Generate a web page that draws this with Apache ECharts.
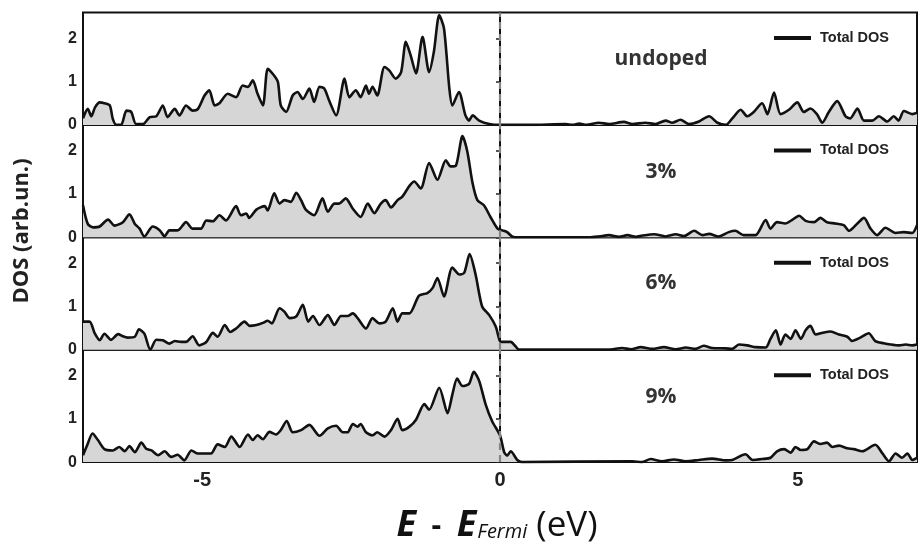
<!DOCTYPE html>
<html>
<head>
<meta charset="utf-8">
<script src="https://cdn.jsdelivr.net/npm/echarts@6/dist/echarts.min.js"></script>
<style>
  html, body { margin: 0; padding: 0; background: #fff; }
  #chart { width: 921px; height: 551px; }
</style>
</head>
<body>
<div id="chart"></div>
<script>
// Total density of states, [E - E_Fermi (eV), DOS (arb. un.)]
const dosUndoped = [
  [-7.0,0.15],[-6.92,0.37],[-6.86,0.2],[-6.8,0.4],[-6.72,0.52],[-6.64,0.5],[-6.55,0.45],[-6.5,0.14],[-6.44,0],[-6.36,0],
  [-6.27,0.33],[-6.19,0.3],[-6.11,0.02],[-5.99,0.02],[-5.88,0.18],[-5.77,0.2],[-5.66,0.45],[-5.58,0.18],[-5.46,0.37],[-5.38,0.22],
  [-5.27,0.45],[-5.16,0.33],[-5.07,0.37],[-4.96,0.68],[-4.88,0.8],[-4.79,0.45],[-4.71,0.5],[-4.57,0.72],[-4.43,0.64],[-4.32,0.91],
  [-4.23,0.88],[-4.15,1.03],[-4.07,0.72],[-3.98,0.45],[-3.9,1.3],[-3.82,1.19],[-3.73,1.0],[-3.68,0.45],[-3.59,0.3],[-3.48,0.68],
  [-3.4,0.76],[-3.31,0.6],[-3.2,0.84],[-3.12,0.53],[-3.03,0.88],[-2.95,0.84],[-2.87,0.57],[-2.75,0.22],[-2.61,1.07],[-2.53,0.64],
  [-2.42,0.8],[-2.34,0.64],[-2.25,0.91],[-2.2,0.72],[-2.14,0.88],[-2.06,0.68],[-1.94,1.34],[-1.86,1.26],[-1.75,1.07],[-1.66,1.22],
  [-1.58,1.92],[-1.5,1.61],[-1.41,1.19],[-1.3,2.04],[-1.19,1.22],[-1.11,1.69],[-1.02,2.54],[-0.94,2.23],[-0.85,0.84],[-0.8,0.45],
  [-0.69,0.76],[-0.58,0.22],[-0.52,0.1],[-0.46,0.22],[-0.35,0.1],[-0.18,0.02],[0,0],
  [0.5,0],[1.1,0.02],[1.22,0],[1.33,0.03],[1.45,0],[1.66,0.05],[1.83,0.02],[2.08,0.07],[2.22,0.02],[2.44,0.05],
  [2.61,0.02],[2.78,0.1],[2.89,0.05],[3.03,0.12],[3.17,0.02],[3.34,0.08],[3.51,0.2],[3.65,0.05],[3.79,0],[3.9,0.15],
  [4.04,0.35],[4.15,0.2],[4.26,0.3],[4.4,0.5],[4.49,0.25],[4.6,0.75],[4.71,0.25],[4.85,0.35],[4.99,0.52],[5.1,0.3],
  [5.21,0.38],[5.32,0.25],[5.41,0.05],[5.52,0.3],[5.66,0.55],[5.8,0.2],[5.88,0.15],[6.0,0.38],[6.11,0.1],[6.25,0.1],
  [6.36,0.2],[6.5,0.08],[6.61,0.2],[6.69,0.1],[6.78,0.32],[6.92,0.25],[7.0,0.28]
];

const dos3 = [
  [-7.0,0.74],[-6.92,0.31],[-6.83,0.23],[-6.72,0.25],[-6.58,0.41],[-6.47,0.27],[-6.33,0.35],[-6.22,0.53],[-6.13,0.31],[-6.05,0.2],
  [-5.97,0.02],[-5.83,0.25],[-5.71,0.16],[-5.63,0.02],[-5.55,0.16],[-5.41,0.16],[-5.27,0.35],[-5.16,0.2],[-5.02,0.2],[-4.93,0.39],
  [-4.82,0.37],[-4.71,0.51],[-4.6,0.39],[-4.43,0.72],[-4.35,0.51],[-4.26,0.55],[-4.21,0.45],[-4.09,0.64],[-3.95,0.72],[-3.9,0.62],
  [-3.79,1.02],[-3.7,0.78],[-3.62,0.86],[-3.51,0.82],[-3.42,1.03],[-3.34,0.86],[-3.26,0.64],[-3.12,0.51],[-2.98,0.9],[-2.89,0.59],
  [-2.78,0.78],[-2.7,0.78],[-2.59,0.9],[-2.47,0.66],[-2.34,0.47],[-2.22,0.78],[-2.11,0.56],[-2.0,0.78],[-1.92,0.86],[-1.83,0.69],
  [-1.72,0.86],[-1.64,0.94],[-1.52,1.19],[-1.44,1.29],[-1.33,1.13],[-1.19,1.72],[-1.05,1.33],[-0.91,1.78],[-0.83,1.64],[-0.74,1.66],
  [-0.63,2.34],[-0.55,1.99],[-0.46,1.25],[-0.38,0.86],[-0.27,0.74],[-0.16,0.47],[-0.04,0.2],[0.04,0.16],[0.12,0.12],[0.2,0.02],
  [0.26,0],[1.5,0],[1.66,0.02],[1.83,0.05],[2.0,0.01],[2.14,0.05],[2.28,0.01],[2.39,0.04],[2.59,0.07],[2.78,0.02],
  [2.95,0.07],[3.09,0.03],[3.26,0.15],[3.4,0.05],[3.51,0.08],[3.67,0.02],[3.84,0.12],[3.95,0.15],[4.09,0.05],[4.29,0.05],
  [4.46,0.4],[4.54,0.2],[4.65,0.35],[4.79,0.32],[4.9,0.4],[5.02,0.5],[5.13,0.38],[5.27,0.35],[5.38,0.45],[5.49,0.35],
  [5.63,0.32],[5.77,0.28],[5.86,0.15],[6.0,0.32],[6.11,0.45],[6.22,0.2],[6.33,0.05],[6.47,0.22],[6.64,0.1],[6.78,0.12],
  [6.92,0.1],[7.0,0.28]
];

const dos6 = [
  [-7.0,0.65],[-6.89,0.65],[-6.8,0.37],[-6.72,0.22],[-6.64,0.37],[-6.53,0.23],[-6.41,0.36],[-6.33,0.31],[-6.25,0.28],[-6.13,0.3],
  [-6.06,0.47],[-5.97,0.37],[-5.87,0],[-5.77,0.23],[-5.66,0.22],[-5.55,0.14],[-5.46,0.2],[-5.35,0.18],[-5.27,0.18],[-5.16,0.31],
  [-5.05,0.1],[-4.93,0.18],[-4.82,0.39],[-4.74,0.3],[-4.62,0.57],[-4.53,0.41],[-4.43,0.49],[-4.29,0.65],[-4.2,0.55],[-4.09,0.57],
  [-3.98,0.62],[-3.9,0.67],[-3.83,0.61],[-3.7,0.96],[-3.62,0.88],[-3.53,0.73],[-3.42,0.77],[-3.31,1.04],[-3.22,0.65],[-3.14,0.78],
  [-3.03,0.57],[-2.89,0.8],[-2.78,0.57],[-2.67,0.78],[-2.56,0.78],[-2.47,0.84],[-2.39,0.73],[-2.25,0.49],[-2.14,0.73],[-2.03,0.61],
  [-1.92,0.65],[-1.8,0.96],[-1.72,0.65],[-1.64,0.84],[-1.52,0.84],[-1.36,1.25],[-1.22,1.31],[-1.13,1.43],[-1.05,1.66],[-0.94,1.23],
  [-0.8,1.9],[-0.68,1.74],[-0.6,1.78],[-0.51,2.21],[-0.41,1.74],[-0.3,1.0],[-0.18,0.8],[-0.07,0.53],[0.0,0.2],[0.07,0.18],
  [0.18,0.18],[0.26,0.08],[0.32,0],[1.83,0],[2.05,0.04],[2.2,0.01],[2.36,0.06],[2.56,0.02],[2.75,0.06],[2.95,0.01],
  [3.12,0.05],[3.28,0.02],[3.42,0.09],[3.56,0.04],[3.79,0.03],[3.9,0.02],[4.01,0.12],[4.15,0.1],[4.29,0.06],[4.46,0.05],
  [4.54,0.25],[4.63,0.45],[4.71,0.12],[4.79,0.35],[4.88,0.25],[4.96,0.45],[5.05,0.25],[5.13,0.45],[5.21,0.55],[5.3,0.35],
  [5.44,0.4],[5.55,0.42],[5.69,0.35],[5.83,0.3],[5.91,0.2],[6.05,0.28],[6.19,0.38],[6.3,0.2],[6.44,0.15],[6.56,0.12],
  [6.7,0.1],[6.81,0.12],[6.92,0.1],[7.0,0.12]
];

const dos9 = [
  [-7.0,0.16],[-6.93,0.39],[-6.84,0.66],[-6.75,0.51],[-6.64,0.3],[-6.5,0.27],[-6.39,0.35],[-6.3,0.25],[-6.22,0.37],[-6.13,0.23],
  [-6.02,0.45],[-5.94,0.31],[-5.85,0.27],[-5.74,0.16],[-5.63,0.25],[-5.52,0.12],[-5.41,0.17],[-5.3,0.04],[-5.18,0.27],[-5.07,0.2],
  [-4.96,0.2],[-4.85,0.2],[-4.74,0.41],[-4.62,0.35],[-4.51,0.59],[-4.37,0.35],[-4.23,0.64],[-4.15,0.51],[-4.07,0.62],[-3.98,0.53],
  [-3.87,0.7],[-3.76,0.64],[-3.68,0.74],[-3.58,0.95],[-3.48,0.69],[-3.34,0.74],[-3.2,0.86],[-3.03,0.61],[-2.89,0.78],[-2.75,0.84],
  [-2.64,0.69],[-2.56,0.69],[-2.47,0.88],[-2.39,0.82],[-2.34,0.88],[-2.25,0.69],[-2.14,0.62],[-2.06,0.69],[-1.94,0.59],[-1.83,0.74],
  [-1.72,1.0],[-1.64,0.74],[-1.52,0.82],[-1.41,0.98],[-1.27,1.34],[-1.19,1.21],[-1.02,1.72],[-0.88,1.13],[-0.8,1.56],[-0.72,1.93],
  [-0.63,1.76],[-0.52,1.81],[-0.44,2.09],[-0.35,1.88],[-0.24,1.33],[-0.13,0.94],[0.0,0.62],[0.07,0.23],[0.12,0.15],[0.18,0.25],
  [0.29,0.05],[0.37,0],[2.22,0.02],[2.38,0.0],[2.53,0.07],[2.72,0.02],[2.92,0.06],[3.12,0.02],[3.34,0.05],[3.56,0.08],
  [3.79,0.04],[3.9,0.05],[4.12,0.18],[4.24,0.05],[4.4,0.07],[4.54,0.1],[4.65,0.25],[4.77,0.3],[4.88,0.22],[4.96,0.35],
  [5.05,0.28],[5.16,0.3],[5.27,0.48],[5.38,0.42],[5.49,0.45],[5.58,0.35],[5.69,0.38],[5.83,0.32],[5.94,0.3],[6.08,0.25],
  [6.3,0.4],[6.42,0.2],[6.53,0.02],[6.64,0.2],[6.75,0.1],[6.84,0.2],[6.92,0.05],[7.0,0.1]
];

const panelLabels = ['undoped', '3%', '6%', '9%'];
const panelData = [dosUndoped, dos3, dos6, dos9];
const seriesName = 'Total DOS';
const xTicks = [-5, 0, 5];
const xRange = [-7, 7];
const yRange = [0, 2.6];
const fermiLevel = 0;

const chart = echarts.init(document.getElementById('chart'));

const plotLeft = 83, plotRight = 4, plotTop = 12.5, panelH = 112.4;
const labelFont = '"Liberation Sans", Arial, sans-serif';

const grids = [], xAxes = [], yAxes = [], series = [], legends = [], graphics = [];

panelData.forEach((data, i) => {
  const top = plotTop + i * panelH;
  const last = i === panelData.length - 1;
  grids.push({
    left: plotLeft, right: plotRight, top: top, height: panelH,
    show: true, borderColor: '#111', borderWidth: 2, backgroundColor: 'transparent'
  });
  xAxes.push({
    gridIndex: i, type: 'value', min: xRange[0], max: xRange[1],
    axisLine: { show: false },
    splitLine: { show: false },
    axisTick: { show: true, inside: true, length: 6, customValues: xTicks, lineStyle: { color: '#222', width: 1.5 } },
    axisLabel: {
      show: last, customValues: xTicks, margin: 8,
      color: '#222', fontSize: 20, fontWeight: 'bold', fontFamily: labelFont
    }
  });
  yAxes.push({
    gridIndex: i, type: 'value', min: yRange[0], max: yRange[1], interval: 1,
    axisLine: { show: true, lineStyle: { color: '#111', width: 2 } },
    splitLine: { show: false },
    axisTick: { show: true, inside: false, length: 4, lineStyle: { color: '#222', width: 1.5 } },
    axisLabel: {
      showMaxLabel: false, margin: 6,
      color: '#222', fontSize: 16, fontWeight: 'bold', fontFamily: labelFont
    }
  });
  series.push({
    name: seriesName, type: 'line', xAxisIndex: i, yAxisIndex: i,
    data: data, smooth: 0.25, showSymbol: false, symbol: 'none',
    lineStyle: { color: '#111', width: 2.6 },
    itemStyle: { color: '#111' },
    areaStyle: { color: '#d6d6d6', opacity: 1 },
    z: 2
  });
  // Fermi level marker
  series.push({
    name: 'Fermi level', type: 'line', xAxisIndex: i, yAxisIndex: i,
    data: [[fermiLevel, yRange[0]], [fermiLevel, yRange[1]]],
    showSymbol: false, symbol: 'none', silent: true,
    lineStyle: { color: '#858585', width: 2.2, type: [7, 5] },
    z: 3
  });
  legends.push({
    data: [seriesName], right: 27, top: top + 13,
    icon: 'rect', itemWidth: 37, itemHeight: 4,
    itemStyle: { color: '#111' },
    selectedMode: false,
    textStyle: { color: '#222', fontSize: 14.5, fontWeight: 'bold', fontFamily: labelFont, padding: [0, 0, 0, 4] }
  });
  graphics.push({
    type: 'text',
    x: 661, y: top + [47, 47, 46, 47][i],
    style: {
      text: panelLabels[i], fill: '#333', align: 'center', verticalAlign: 'middle',
      font: 'bold 21px "Open Sans", sans-serif'
    }
  });
});

// Axis titles
graphics.push({
  type: 'text', x: 22, y: 231, rotation: Math.PI / 2,
  style: {
    text: 'DOS (arb.un.)', fill: '#222', align: 'center', verticalAlign: 'middle',
    font: 'bold 22px "Open Sans", sans-serif'
  }
});
graphics.push({
  type: 'text', x: 497, y: 526,
  style: {
    text: '{e|E}{d|  -  }{e|E}{s|Fermi}{u| (eV)}',
    align: 'center', verticalAlign: 'middle', fill: '#111',
    rich: {
      e: { font: 'italic bold 36px "Open Sans", sans-serif', fill: '#111' },
      d: { font: 'bold 30px "Open Sans", sans-serif', fill: '#111' },
      s: { font: 'italic 20px "Open Sans", sans-serif', fill: '#111', padding: [13, 0, 0, 1] },
      u: { font: '35px "Open Sans", sans-serif', fill: '#111' }
    }
  }
});

chart.setOption({
  animation: false,
  backgroundColor: '#fff',
  grid: grids,
  xAxis: xAxes,
  yAxis: yAxes,
  legend: legends,
  series: series,
  graphic: graphics
});
</script>
</body>
</html>
